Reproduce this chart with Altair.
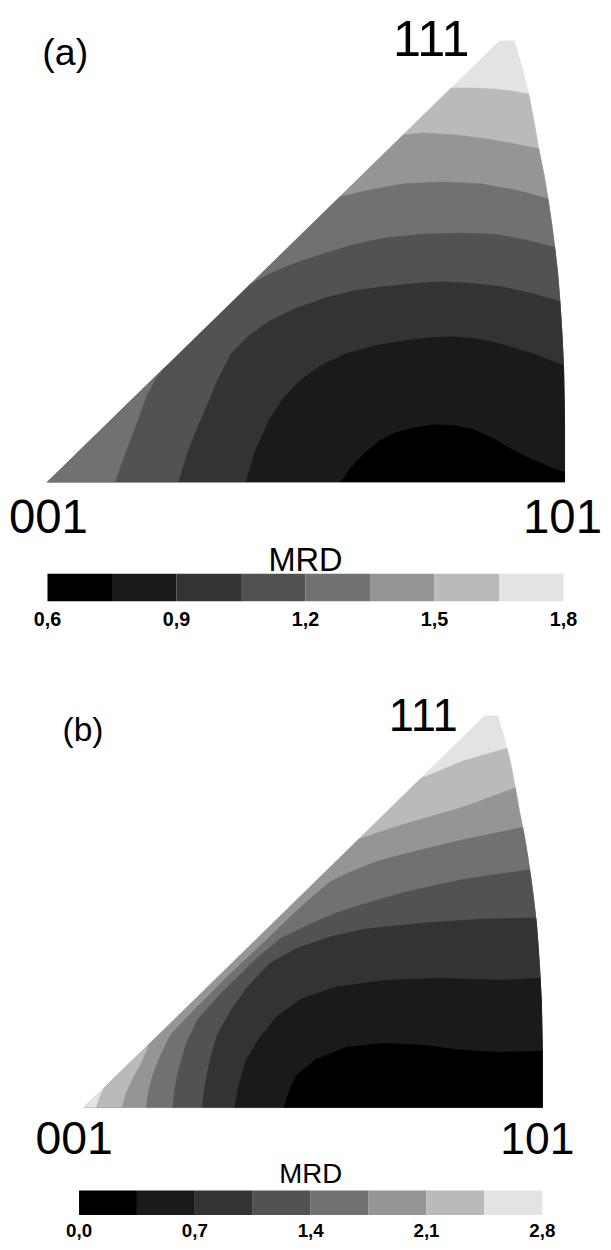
import altair as alt
import pandas as pd

FONT = "Liberation Sans"

# 8 grey classes, darkest = lowest MRD
GRAYS = ["#000000", "#1a1a1a", "#333333", "#525252", "#717171", "#959595", "#bababa", "#e3e3e3"]

# colour-bar class edges and labelled ticks
MRD_A_EDGES = [0.6, 0.75, 0.9, 1.05, 1.2, 1.35, 1.5, 1.65, 1.8]
MRD_A_TICKS = [0.6, 0.9, 1.2, 1.5, 1.8]
MRD_B_EDGES = [0.0, 0.35, 0.7, 1.05, 1.4, 1.75, 2.1, 2.45, 2.8]
MRD_B_TICKS = [0.0, 0.7, 1.4, 2.1, 2.8]

# standard triangle outline: u along 001->101 (0..100), v from base up to 111 (0..100)
OUTLINE_U = [0.0, 87.4, 90.3, 91.8, 93.1, 94.1, 95.0, 96.0, 96.8, 97.5, 98.1, 98.7, 99.1, 99.5, 99.8, 100.0, 100.0]
OUTLINE_V = [0.0, 100.0, 100.0, 94.0, 87.9, 81.7, 75.6, 69.8, 64.2, 58.6, 53.2, 47.0, 40.9, 33.6, 26.4, 13.4, 0.0]

VERTEX_NAMES = ["001", "101", "111"]
VERTEX_U = [0.0, 100.0, 88.9]
VERTEX_V = [0.0, 0.0, 100.0]

# ---- panel (a) iso-MRD lines ----
A_B1_U = [78.0, 82.4, 86.3, 90.1, 93.1]
A_B1_V = [89.3, 89.3, 89.1, 88.6, 87.9]
A_B2_U = [68.8, 72.9, 78.6, 84.4, 90.1, 95.0]
A_B2_V = [78.7, 79.1, 78.7, 77.9, 76.7, 75.6]
A_B3_U = [56.5, 62.4, 68.9, 76.3, 83.8, 91.2, 96.8]
A_B3_V = [64.6, 66.2, 67.6, 68.0, 67.6, 66.0, 64.2]
A_B4_U = [39.1, 43.3, 48.1, 53.8, 59.5, 65.3, 72.9, 80.2, 86.3, 92.0, 98.1]
A_B4_V = [44.7, 47.4, 49.7, 51.9, 53.9, 55.3, 56.2, 56.4, 56.2, 55.0, 53.2]
A_B4L_U = [13.0, 14.5, 16.0, 17.6, 19.1, 20.8, 22.7]
A_B4L_V = [0.0, 4.9, 9.6, 14.5, 19.5, 23.3, 26.0]
A_B5_U = [25.4, 27.1, 29.0, 30.3, 32.8, 35.5, 38.9, 42.9, 48.1, 54.0, 59.5, 65.3, 71.0, 76.3, 82.4, 87.6, 93.9, 99.1]
A_B5_V = [0.0, 6.7, 12.3, 15.7, 22.8, 29.1, 33.1, 36.5, 39.4, 41.8, 43.4, 44.3, 45.0, 45.4, 45.0, 44.3, 42.7, 40.9]
A_B6_U = [38.4, 40.1, 42.9, 45.6, 48.9, 52.9, 57.8, 63.4, 68.9, 73.9, 78.6, 83.4, 87.6, 93.9, 99.8]
A_B6_V = [0.0, 6.7, 14.1, 19.0, 23.0, 26.4, 29.1, 30.9, 32.0, 32.7, 32.9, 32.4, 31.3, 29.1, 26.4]
A_B7_U = [56.7, 58.8, 61.5, 64.3, 67.4, 71.0, 74.8, 78.6, 82.3, 86.3, 89.7, 92.4, 95.0, 97.7, 100.0]
A_B7_V = [0.0, 3.4, 6.7, 9.4, 11.2, 12.3, 13.0, 12.8, 11.9, 9.8, 7.4, 5.8, 4.5, 3.1, 2.2]

# ---- panel (b) iso-MRD lines ----
B_B1_U = [73.3, 82.5, 92.3]
B_B1_V = [83.9, 88.4, 91.7]
B_B2_U = [59.9, 65.7, 69.8, 82.5, 94.1]
B_B2_V = [68.5, 70.8, 72.3, 76.6, 81.6]
B_B2L_U = [8.2, 9.0, 10.5, 12.3, 14.1]
B_B2L_V = [0.0, 3.5, 7.3, 11.1, 16.1]
B_B1L_U = [2.6, 3.2, 4.2]
B_B1L_V = [0.0, 2.3, 4.8]
B_B3_U = [13.6, 14.0, 15.1, 16.8, 18.9, 23.0, 27.3, 31.6, 36.2, 40.7, 45.2, 49.9, 53.8, 57.3, 63.5, 69.8, 82.5, 95.7]
B_B3_V = [0.0, 3.5, 8.6, 13.6, 18.6, 23.7, 28.7, 33.8, 38.8, 43.8, 48.9, 53.9, 57.7, 59.7, 62.7, 64.7, 68.3, 71.5]
B_B4_U = [19.4, 19.8, 20.7, 22.2, 24.8, 29.5, 33.4, 38.1, 43.1, 49.5, 54.9, 60.9, 69.8, 82.5, 97.2]
B_B4_V = [0.0, 4.8, 9.8, 16.1, 22.4, 28.7, 33.2, 38.5, 43.3, 46.9, 49.6, 51.9, 54.9, 58.2, 60.7]
B_B5_U = [25.8, 26.3, 27.3, 29.1, 32.1, 35.5, 40.5, 46.3, 53.8, 61.4, 74.1, 86.5, 98.6]
B_B5_V = [0.0, 4.8, 11.1, 18.6, 24.9, 30.5, 36.8, 40.6, 43.6, 45.6, 47.1, 48.1, 48.4]
B_B6_U = [32.9, 33.6, 35.3, 38.1, 42.0, 47.4, 54.7, 65.7, 78.1, 90.9, 99.5]
B_B6_V = [0.0, 4.8, 11.8, 17.4, 23.2, 27.7, 30.7, 32.5, 33.0, 32.5, 33.0]
B_B7_U = [43.7, 44.6, 46.3, 50.6, 57.3, 65.7, 74.1, 82.5, 90.9, 100.0]
B_B7_V = [0.0, 3.5, 8.1, 12.3, 15.4, 16.4, 15.9, 14.6, 14.1, 14.4]


def region(us, vs, kind):
    """Closed region: 'full' triangle, area under a line ('edge' start on 001-111 side,
    'base' start on 001-101 side) or a 'wedge' cut off at the 001 corner."""
    if kind == "full":
        return list(zip(OUTLINE_U, OUTLINE_V))
    pts = list(zip(us, vs))
    if kind == "wedge":
        pts.append((OUTLINE_U[0], OUTLINE_V[0]))
        return pts
    end_v = vs[-1]
    pts += [(u, v) for u, v in zip(OUTLINE_U[2:], OUTLINE_V[2:]) if v < end_v]
    if kind == "edge":
        pts.append((OUTLINE_U[0], OUTLINE_V[0]))
    return pts


def fill_layers(spec, xs, ys):
    out = []
    for us, vs, kind, level in spec:
        pts = region(us, vs, kind)
        df = pd.DataFrame({"u": [p[0] for p in pts], "v": [p[1] for p in pts],
                           "i": list(range(len(pts)))})
        out.append(
            alt.Chart(df).mark_line(fill=GRAYS[level], stroke=GRAYS[level], strokeWidth=0.6,
                                    strokeJoin="round")
            .encode(x=alt.X("u:Q", scale=xs, axis=None),
                    y=alt.Y("v:Q", scale=ys, axis=None),
                    order=alt.Order("i:Q"))
        )
    return out


def vertex_layers(xs, ys, styles):
    """styles: one (fontSize, dx, dy) per vertex name."""
    df = pd.DataFrame({"name": VERTEX_NAMES, "u": VERTEX_U, "v": VERTEX_V})
    out = []
    for name, (size, dx, dy) in zip(VERTEX_NAMES, styles):
        out.append(
            alt.Chart(df).transform_filter(alt.datum.name == name).mark_text(
                font=FONT, fontSize=size, baseline="alphabetic", align="center",
                dx=dx, dy=dy, color="black"
            ).encode(x=alt.X("u:Q", scale=xs, axis=None), y=alt.Y("v:Q", scale=ys, axis=None),
                     text="name:N")
        )
    return out


def colorbar(edges, ticks, cs, y0, y1, tick_y, tick_size, title_y, title_size):
    bins = pd.DataFrame({"lo": edges[:-1], "hi": edges[1:], "col": GRAYS})
    rects = alt.Chart(bins).mark_rect().encode(
        x=alt.X("lo:Q", scale=cs, axis=None), x2="hi:Q",
        y=alt.value(y0), y2=alt.value(y1),
        color=alt.Color("col:N", scale=None, legend=None))
    tdf = pd.DataFrame({"t": ticks, "lab": [f"{t:.1f}".replace(".", ",") for t in ticks]})
    labels = alt.Chart(tdf).mark_text(
        font=FONT, fontSize=tick_size, fontWeight="bold", baseline="alphabetic", align="center", color="black"
    ).encode(x=alt.X("t:Q", scale=cs, axis=None), y=alt.value(tick_y), text="lab:N")
    mdf = pd.DataFrame({"m": [(edges[0] + edges[-1]) / 2], "name": ["MRD"]})
    title = alt.Chart(mdf).mark_text(
        font=FONT, fontSize=title_size, baseline="alphabetic", align="center", color="black"
    ).encode(x=alt.X("m:Q", scale=cs, axis=None), y=alt.value(title_y), text="name:N")
    return alt.layer(rects, labels, title)


def letter(text, x, y, size):
    return alt.Chart(pd.DataFrame({"t": [text]})).mark_text(
        font=FONT, fontSize=size, baseline="alphabetic", align="center", color="black"
    ).encode(x=alt.value(x), y=alt.value(y), text="t:N")


# ---------------- panel (a) ----------------
xa = alt.Scale(domain=[0, 100], range=[40, 564], zero=False, nice=False)
ya = alt.Scale(domain=[0, 100], range=[472, 25], zero=False, nice=False)
spec_a = [
    (None, None, "full", 7),
    (A_B1_U, A_B1_V, "edge", 6),
    (A_B2_U, A_B2_V, "edge", 5),
    (A_B3_U, A_B3_V, "edge", 4),
    (A_B4_U, A_B4_V, "edge", 3),
    (A_B4L_U, A_B4L_V, "wedge", 4),
    (A_B5_U, A_B5_V, "base", 2),
    (A_B6_U, A_B6_V, "base", 1),
    (A_B7_U, A_B7_V, "base", 0),
]
panel_a = alt.layer(*fill_layers(spec_a, xa, ya),
                    *vertex_layers(xa, ya, [(48, 1, 52), (48, -2, 52), (51, -77, 15)]),
                    letter("(a)", 58, 49.5, 38))
ca = alt.Scale(domain=[MRD_A_EDGES[0], MRD_A_EDGES[-1]], range=[40, 563], zero=False, nice=False)
cbar_a = colorbar(MRD_A_EDGES, MRD_A_TICKS, ca, 565, 593, 618, 20, 562, 33)

# ---------------- panel (b) ----------------
xb = alt.Scale(domain=[0, 100], range=[77, 541.5], zero=False, nice=False)
yb = alt.Scale(domain=[0, 100], range=[1106, 709], zero=False, nice=False)
spec_b = [
    (None, None, "full", 7),
    (B_B1_U, B_B1_V, "edge", 6),
    (B_B2_U, B_B2_V, "edge", 5),
    (B_B2L_U, B_B2L_V, "wedge", 6),
    (B_B1L_U, B_B1L_V, "wedge", 7),
    (B_B3_U, B_B3_V, "base", 4),
    (B_B4_U, B_B4_V, "base", 3),
    (B_B5_U, B_B5_V, "base", 2),
    (B_B6_U, B_B6_V, "base", 1),
    (B_B7_U, B_B7_V, "base", 0),
]
panel_b = alt.layer(*fill_layers(spec_b, xb, yb),
                    *vertex_layers(xb, yb, [(47, -10, 47), (45, -5, 47), (46, -69, 15)]),
                    letter("(b)", 76, 735, 34))
cb = alt.Scale(domain=[MRD_B_EDGES[0], MRD_B_EDGES[-1]], range=[72, 541.5], zero=False, nice=False)
cbar_b = colorbar(MRD_B_EDGES, MRD_B_TICKS, cb, 1190, 1215, 1237, 19, 1182, 28)

chart = (
    alt.layer(panel_a, cbar_a, panel_b, cbar_b)
    .resolve_scale(x="independent", y="independent")
    .properties(width=603, height=1242, padding=0, autosize=alt.AutoSizeParams(type="none"),
                background="white")
    .configure_view(strokeWidth=0)
)

chart.save("out.html", embed_options={"renderer": "svg", "actions": False})
